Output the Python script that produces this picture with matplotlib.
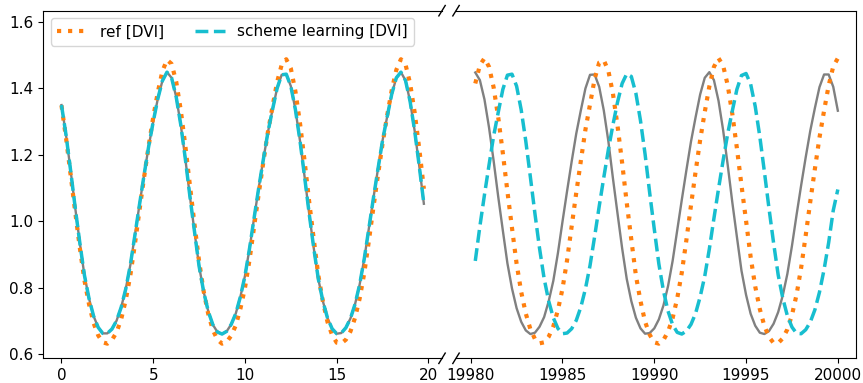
import numpy as np
import matplotlib
matplotlib.use("Agg")
import matplotlib.pyplot as plt

plt.rcParams.update({
    "font.size": 11,
    "xtick.labelsize": 11,
    "ytick.labelsize": 11,
    "legend.fontsize": 11,
})

# ------------------------------
# data
# ------------------------------
t_left = np.arange(0, 19.76, 0.25)
t_right = 19980.25 + np.arange(80) * 0.25

truth_left = [
    1.349, 1.258, 1.151, 1.039, 0.934, 0.837, 0.767, 0.714, 0.680, 0.662,
    0.662, 0.675, 0.700, 0.740, 0.795, 0.867, 0.957, 1.049, 1.138, 1.224,
    1.299, 1.368, 1.422, 1.448, 1.431, 1.374, 1.290, 1.187, 1.074, 0.968,
    0.864, 0.787, 0.728, 0.688, 0.666, 0.660, 0.668, 0.689, 0.722, 0.772,
    0.835, 0.918, 1.010, 1.100, 1.185, 1.267, 1.335, 1.399, 1.440, 1.442,
    1.406, 1.335, 1.241, 1.133, 1.022, 0.918, 0.825, 0.758, 0.708, 0.676,
    0.661, 0.663, 0.679, 0.707, 0.750, 0.809, 0.886, 0.977, 1.069, 1.157,
    1.243, 1.314, 1.382, 1.431, 1.448, 1.423, 1.360, 1.271, 1.165, 1.052,
]
ref_left = [
    1.348, 1.249, 1.138, 1.026, 0.919, 0.822, 0.750, 0.693, 0.656, 0.635,
    0.631, 0.642, 0.665, 0.704, 0.762, 0.836, 0.930, 1.032, 1.131, 1.226,
    1.312, 1.388, 1.451, 1.485, 1.473, 1.420, 1.334, 1.226, 1.107, 0.990,
    0.879, 0.788, 0.720, 0.672, 0.643, 0.631, 0.636, 0.655, 0.686, 0.736,
    0.799, 0.884, 0.984, 1.082, 1.177, 1.268, 1.344, 1.418, 1.470, 1.487,
    1.459, 1.390, 1.294, 1.180, 1.058, 0.945, 0.836, 0.757, 0.696, 0.657,
    0.634, 0.632, 0.643, 0.668, 0.709, 0.767, 0.843, 0.939, 1.041, 1.139,
    1.233, 1.318, 1.394, 1.455, 1.487, 1.471, 1.414, 1.326, 1.217, 1.097,
]
# scheme learning sits on top of the truth on the first window
scheme_left = list(truth_left)

truth_right = [
    1.447, 1.424, 1.366, 1.281, 1.181, 1.073, 0.972, 0.873, 0.797, 0.738,
    0.697, 0.671, 0.660, 0.664, 0.682, 0.711, 0.759, 0.820, 0.903, 0.998,
    1.090, 1.179, 1.263, 1.333, 1.399, 1.440, 1.441, 1.404, 1.333, 1.240,
    1.128, 1.022, 0.918, 0.826, 0.759, 0.709, 0.677, 0.661, 0.663, 0.677,
    0.704, 0.746, 0.804, 0.880, 0.972, 1.064, 1.153, 1.239, 1.312, 1.381,
    1.431, 1.448, 1.424, 1.362, 1.274, 1.169, 1.057, 0.953, 0.851, 0.778,
    0.721, 0.685, 0.664, 0.660, 0.669, 0.691, 0.726, 0.776, 0.841, 0.925,
    1.018, 1.107, 1.192, 1.272, 1.340, 1.403, 1.441, 1.441, 1.404, 1.332,
]
ref_right = [
    1.414, 1.469, 1.490, 1.464, 1.402, 1.312, 1.205, 1.089, 0.979, 0.872,
    0.787, 0.722, 0.675, 0.645, 0.632, 0.635, 0.652, 0.683, 0.732, 0.796,
    0.882, 0.984, 1.085, 1.181, 1.275, 1.351, 1.427, 1.477, 1.484, 1.452,
    1.383, 1.286, 1.175, 1.055, 0.944, 0.836, 0.759, 0.697, 0.658, 0.635,
    0.631, 0.642, 0.667, 0.708, 0.767, 0.845, 0.943, 1.047, 1.148, 1.244,
    1.328, 1.405, 1.464, 1.490, 1.468, 1.409, 1.323, 1.220, 1.108, 1.001,
    0.892, 0.803, 0.735, 0.684, 0.651, 0.633, 0.633, 0.647, 0.674, 0.717,
    0.778, 0.859, 0.957, 1.059, 1.157, 1.251, 1.332, 1.408, 1.465, 1.490,
]
scheme_right = [
    0.880, 0.984, 1.079, 1.169, 1.256, 1.327, 1.396, 1.439, 1.442, 1.406,
    1.335, 1.241, 1.133, 1.022, 0.918, 0.827, 0.759, 0.709, 0.677, 0.661,
    0.663, 0.676, 0.701, 0.741, 0.796, 0.866, 0.953, 1.044, 1.131, 1.215,
    1.290, 1.358, 1.414, 1.443, 1.435, 1.384, 1.302, 1.201, 1.085, 0.976,
    0.871, 0.790, 0.729, 0.688, 0.665, 0.660, 0.669, 0.689, 0.722, 0.772,
    0.834, 0.916, 1.008, 1.097, 1.182, 1.263, 1.331, 1.396, 1.438, 1.444,
    1.412, 1.345, 1.254, 1.148, 1.038, 0.934, 0.838, 0.768, 0.715, 0.681,
    0.662, 0.661, 0.673, 0.696, 0.733, 0.786, 0.854, 0.935, 1.032, 1.095,
]

# ------------------------------
# figure
# ------------------------------
fig = plt.figure(figsize=(8.63, 3.83), dpi=100)
ax1 = fig.add_axes([0.0502, 0.0645, 0.4620, 0.9076])
ax2 = fig.add_axes([0.5284, 0.0645, 0.4635, 0.9076])

for ax, t, tr, rf, sc in [(ax1, t_left, truth_left, ref_left, scheme_left),
                          (ax2, t_right, truth_right, ref_right, scheme_right)]:
    ax.plot(t, tr, "-", color="gray", lw=1.7)
    ax.plot(t, rf, ":", color="tab:orange", lw=3, label="ref [DVI]")
    ax.plot(t, sc, "--", color="tab:cyan", lw=2.5, label="scheme learning [DVI]")
    ax.set_ylim(0.587, 1.633)

ax1.set_xlim(-0.99, 20.74)
ax2.set_xlim(19979.2, 20000.99)
ax1.set_xticks([0, 5, 10, 15, 20])
ax2.set_xticks([19980, 19985, 19990, 19995, 20000])
ax1.set_yticks([0.6, 0.8, 1.0, 1.2, 1.4, 1.6])

ax1.spines["right"].set_visible(False)
ax2.spines["left"].set_visible(False)
ax2.tick_params(axis="y", left=False, labelleft=False)

ax1.legend(loc="upper left", ncol=2)

# break marks
dx, dy = 0.008, 0.015
kw = dict(color="k", clip_on=False, lw=1)
ax1.plot((1 - dx, 1 + dx), (-dy, dy), transform=ax1.transAxes, **kw)
ax1.plot((1 - dx, 1 + dx), (1 - dy, 1 + dy), transform=ax1.transAxes, **kw)
ax2.plot((-dx, dx), (-dy, dy), transform=ax2.transAxes, **kw)
ax2.plot((-dx, dx), (1 - dy, 1 + dy), transform=ax2.transAxes, **kw)

fig.savefig("out.png", dpi=100)
